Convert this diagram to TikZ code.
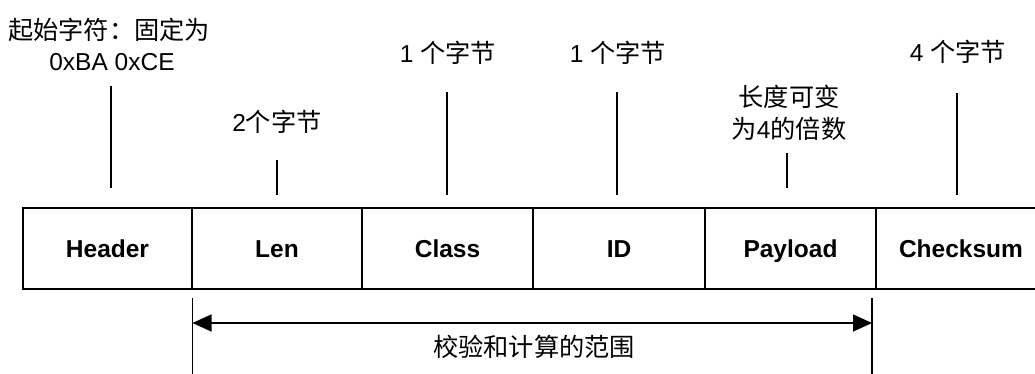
\documentclass[tikz,border=0pt]{standalone}
\usepackage{fontspec}
\setmainfont{Liberation Sans}
\newfontfamily\cjk[Scale=1.03]{Noto Sans CJK SC}
\usetikzlibrary{arrows.meta}
\tikzset{
  field/.style={draw, line width=1.4pt, rectangle, inner sep=0pt, outer sep=0pt,
    minimum height=81pt, text height=17pt, text depth=0pt,
    font=\fontsize{24.5}{28}\selectfont\bfseries},
  lbl/.style={inner sep=0pt, align=center, font=\fontsize{24.5}{31}\selectfont},
  leader/.style={line width=1.4pt},
  spanarrow/.style={line width=1.4pt, {Triangle[length=19pt,width=17pt]}-{Triangle[length=19pt,width=17pt]}}
}
\begin{document}
\begin{tikzpicture}[x=1pt,y=-1pt]
\useasboundingbox (0,0) rectangle (1035,374);
\clip (0,0) rectangle (1035,374);
% fields
\node[field, minimum width=169pt] (hdr) at (107.5,248.5) {Header};
\node[field, minimum width=170pt] (len) at (277,248.5) {Len};
\node[field, minimum width=171pt] (cls) at (447.5,248.5) {Class};
\node[field, minimum width=172pt] (id) at (619,248.5) {ID};
\node[field, minimum width=171pt] (pay) at (790.5,248.5) {Payload};
\node[field, minimum width=170pt] (chk) at (961,248.5) {Checksum};
% labels
\node[lbl] (lhdr1) at (109,30) {{\cjk 起始字符：固定为}};
\node[lbl] (lhdr2) at (112,62) {0xBA 0xCE};
\node[lbl] (llen) at (277,122) {2{\cjk 个字节}};
\node[lbl] (lcls) at (448,53) {1 {\cjk 个字节}};
\node[lbl] (lid) at (618,53) {1 {\cjk 个字节}};
\node[lbl] (lpay1) at (789,97) {{\cjk 长度可变}};
\node[lbl] (lpay2) at (789,129) {{\cjk 为}4{\cjk 的倍数}};
\node[lbl] (lchk) at (958,52) {4 {\cjk 个字节}};
\node[lbl] (lrange) at (534,347) {{\cjk 校验和计算的范围}};
% leader ends
\coordinate (a1) at (111,86);   \coordinate (a2) at (111,188);
\coordinate (b1) at (277,160);  \coordinate (b2) at (277,195);
\coordinate (c1) at (447,92);   \coordinate (c2) at (447,195);
\coordinate (d1) at (617,92);   \coordinate (d2) at (617,195);
\coordinate (e1) at (787,153);  \coordinate (e2) at (787,188);
\coordinate (f1) at (957,93);   \coordinate (f2) at (957,195);
\draw[leader] (a1) -- (a2);
\draw[leader] (b1) -- (b2);
\draw[leader] (c1) -- (c2);
\draw[leader] (d1) -- (d2);
\draw[leader] (e1) -- (e2);
\draw[leader] (f1) -- (f2);
% range markers
\coordinate (g1) at (192.5,298); \coordinate (g2) at (192.5,376);
\coordinate (h1) at (872,298);   \coordinate (h2) at (872,376);
\draw[leader] (g1) -- (g2);
\draw[leader] (h1) -- (h2);
\coordinate (r1) at (192.5,323); \coordinate (r2) at (872,323);
\draw[spanarrow] (r1) -- (r2);
\end{tikzpicture}
\end{document}
